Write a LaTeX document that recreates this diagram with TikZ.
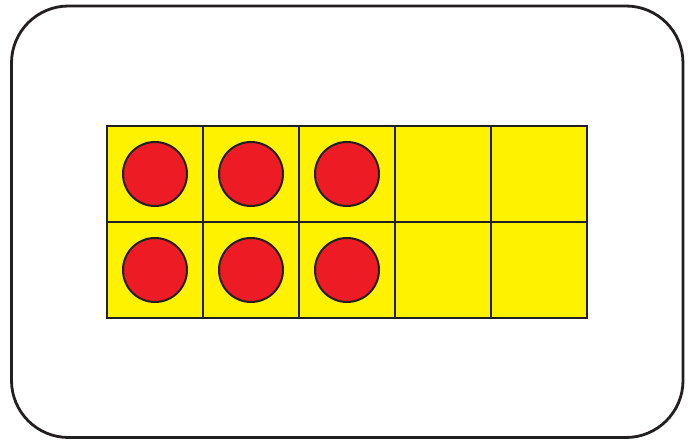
\documentclass[tikz,border=0pt]{standalone}
\definecolor{frameK}{HTML}{231F20}
\definecolor{cellY}{HTML}{FFF200}
\definecolor{dotR}{HTML}{ED1C24}
\begin{document}
\begin{tikzpicture}[x=1pt,y=-1pt,
  cell/.style={draw=frameK,fill=cellY,line width=2.2pt,minimum size=96pt,inner sep=0pt,outer sep=0pt},
  counter/.style={circle,draw=frameK,fill=dotR,line width=2pt,minimum size=64pt,inner sep=0pt},
  outerframe/.style={draw=frameK,line width=2.8pt,rounded corners=57pt}]
\useasboundingbox (0,0) rectangle (694,444);
\draw[outerframe] (11.5,6) rectangle (683,437.5);
\foreach \c in {1,...,5}{
  \foreach \r in {1,2}{
    \node[cell] (cell\r\c) at ({107+96*(\c-0.5)},{126+96*(\r-0.5)}) {};
  }
}
\foreach \c in {1,2,3}{
  \foreach \r in {1,2}{
    \node[counter] (dot\r\c) at (cell\r\c.center) {};
  }
}
\end{tikzpicture}
\end{document}
